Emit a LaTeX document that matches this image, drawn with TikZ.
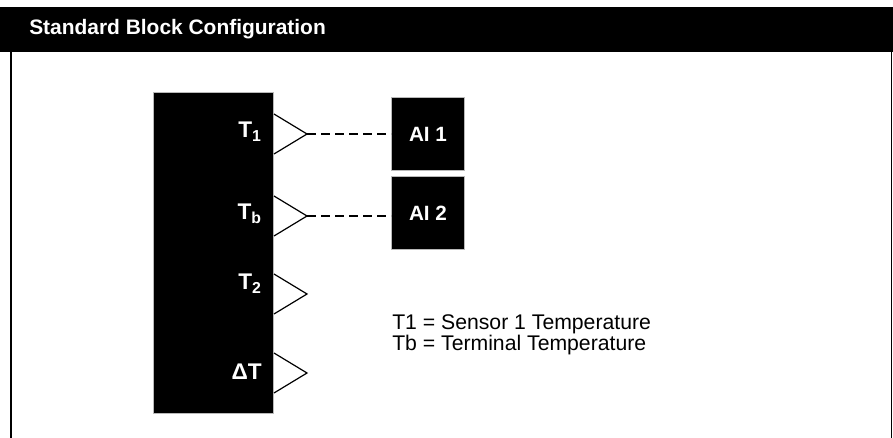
\documentclass[tikz,border=0pt]{standalone}
\usepackage{fontspec}
\setmainfont{Liberation Sans}
\usetikzlibrary{positioning, calc}

\begin{document}
\begin{tikzpicture}[
    x=0.75pt, y=-0.75pt,
    every node/.style={font=\fontsize{15.9}{18}\selectfont, inner sep=0pt},
    blockbox/.style={rectangle, fill=black, draw=gray!55, line width=0.75pt, anchor=north west, minimum width=#1},
    portlbl/.style={anchor=base east, text=white, font=\fontsize{17}{19}\selectfont\bfseries},
    aibox/.style={rectangle, fill=black, draw=gray!55, line width=0.75pt, anchor=north west, minimum size=54.75pt, text=white, font=\fontsize{15.5}{18}\selectfont\bfseries},
    port/.style={line width=0.9pt, line join=miter},
    dashline/.style={line width=0.9pt, dash pattern=on 6.5pt off 4pt}
]
\useasboundingbox (0,0) rectangle (893,438);
% title bar and frame
\fill[black] (0,7) rectangle (893,52);
\node[anchor=base west, text=white, font=\fontsize{15.7}{18}\selectfont\bfseries] (title) at (29,35) {Standard Block Configuration};
\draw[line width=1.5pt] (10.5,52) -- (10.5,438);
\draw[line width=1.2pt] (891.5,52) -- (891.5,438);

\node[blockbox=90pt, minimum height=240.75pt] (blk) at (153,92) {};

\foreach \name/\ypos/\base/\lbl in {tone/134/138/{T\textsubscript{1}}, tb/216/220/{T\textsubscript{b}}, ttwo/294/290/{T\textsubscript{2}}, dt/373/380/{ΔT}} {
  \coordinate (\name tip) at (307,\ypos);
  \draw[port] (blk.east |- 0,\ypos-20) -- (\name tip) -- (blk.east |- 0,\ypos+20);
  \node[portlbl] (\name lbl) at (262,\base) {\lbl};
}

\node[aibox] (ai1) at (391,97) {AI 1};
\node[aibox] (ai2) at (391,176) {AI 2};
\draw[dashline] (tonetip) -- (tonetip -| ai1.west);
\draw[dashline] (tbtip) -- (tbtip -| ai2.west);

\node[anchor=north west, align=left, font=\fontsize{15.9}{14.4}\selectfont] (legend) at (392,314) {T1 = Sensor 1 Temperature\\Tb = Terminal Temperature};
\end{tikzpicture}
\end{document}
